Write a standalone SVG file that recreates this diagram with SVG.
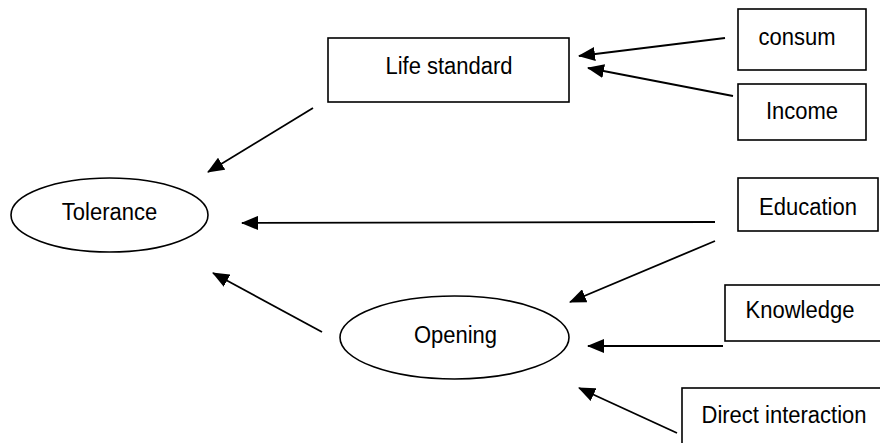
<svg xmlns="http://www.w3.org/2000/svg" width="880" height="443" viewBox="0 0 880 443">
  <style>
    .box { fill: #ffffff; stroke: #000000; stroke-width: 1.6; }
    .lbl { font-family: "Liberation Sans", Arial, sans-serif; font-size: 22px; fill: #000000; text-anchor: middle; }
    .edge { stroke: #000000; stroke-width: 1.8; fill: none; marker-end: url(#arrow); }
  </style>
  <defs>
    <marker id="arrow" markerUnits="userSpaceOnUse" markerWidth="17" markerHeight="14" refX="16" refY="7" orient="auto">
      <path d="M0,0 L17,7 L0,14 Z" fill="#000000"/>
    </marker>
  </defs>
  <rect width="880" height="443" fill="#ffffff"/>

  <g id="connectors">
    <line class="edge" x1="313" y1="108" x2="208" y2="172"/>
    <line class="edge" x1="725" y1="38" x2="579" y2="56"/>
    <line class="edge" x1="733" y1="96" x2="588" y2="68"/>
    <line class="edge" x1="715" y1="222" x2="242" y2="223"/>
    <line class="edge" x1="715" y1="241" x2="570" y2="302"/>
    <line class="edge" x1="723" y1="346" x2="588" y2="346"/>
    <line class="edge" x1="677" y1="433" x2="579" y2="388"/>
    <line class="edge" x1="322" y1="332" x2="213" y2="273"/>
  </g>

  <g id="tolerance">
    <ellipse class="box" cx="109.5" cy="215" rx="98.5" ry="37"/>
    <text class="lbl" transform="translate(109.5,220) scale(1,1.1)">Tolerance</text>
  </g>
  <g id="life-standard">
    <rect class="box" x="328" y="38" width="241" height="64"/>
    <text class="lbl" transform="translate(449,74) scale(1,1.1)">Life standard</text>
  </g>
  <g id="consum">
    <rect class="box" x="738" y="9" width="128" height="61"/>
    <text class="lbl" transform="translate(797,45) scale(1,1.1)">consum</text>
  </g>
  <g id="income">
    <rect class="box" x="738" y="84" width="128" height="56"/>
    <text class="lbl" transform="translate(802,119) scale(1,1.1)">Income</text>
  </g>
  <g id="education">
    <rect class="box" x="738" y="178" width="140" height="53"/>
    <text class="lbl" transform="translate(808,215) scale(1,1.1)">Education</text>
  </g>
  <g id="opening">
    <ellipse class="box" cx="454.5" cy="337.5" rx="114.5" ry="41.5"/>
    <text class="lbl" transform="translate(455.5,343) scale(1,1.1)">Opening</text>
  </g>
  <g id="knowledge">
    <rect class="box" x="725" y="285" width="170" height="56"/>
    <text class="lbl" transform="translate(800,318) scale(1,1.1)">Knowledge</text>
  </g>
  <g id="direct-interaction">
    <rect class="box" x="682" y="388" width="210" height="70"/>
    <text class="lbl" transform="translate(784,423) scale(1,1.1)">Direct interaction</text>
  </g>
</svg>
